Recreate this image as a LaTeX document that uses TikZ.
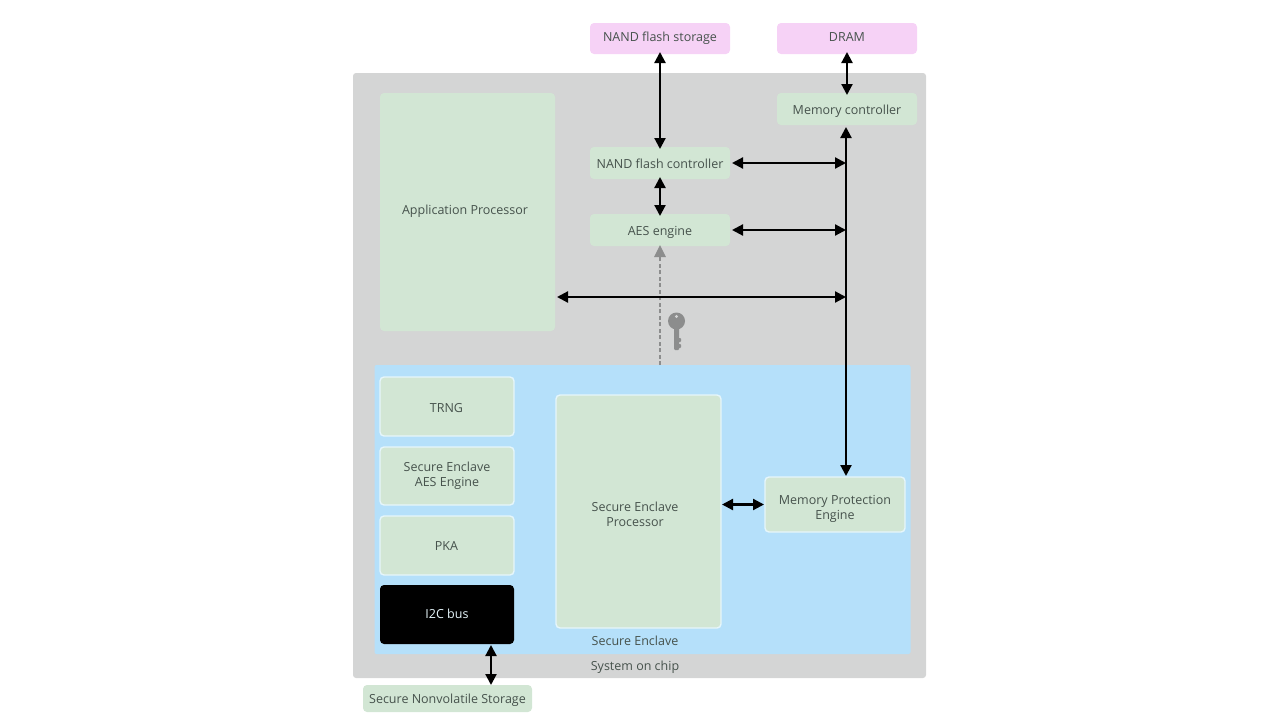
\documentclass[tikz,border=0pt]{standalone}
\usepackage{fontspec}
\setmainfont{Open Sans}
\usetikzlibrary{arrows.meta}
\definecolor{socgrey}{HTML}{D4D5D5}
\definecolor{enclaveblue}{HTML}{B5E0FA}
\definecolor{blockgreen}{HTML}{D2E6D4}
\definecolor{memorypink}{HTML}{F6D2F6}
\definecolor{edgewhite}{HTML}{E6F6FB}
\definecolor{labelgrey}{HTML}{46524C}
\definecolor{keygrey}{HTML}{8C8D8D}
\tikzset{
  x=1pt,y=-1pt,
  every node/.style={font=\fontsize{12.5pt}{15pt}\selectfont,align=center,inner sep=0pt,outer sep=0pt,text=labelgrey},
  region/.style={rounded corners=3pt},
  green block/.style={fill=blockgreen,rounded corners=4pt},
  pink block/.style={fill=memorypink,rounded corners=4pt,text=labelgrey},
  enclave block/.style={fill=blockgreen,draw=edgewhite,line width=1.4pt,rounded corners=4pt},
  black block/.style={fill=black,rounded corners=4pt,text=edgewhite},
  textpad/.style 2 args={execute at begin node={\rule{0pt}{#1pt}},execute at end node={\rule[-#2pt]{0pt}{#2pt}}},
  link/.style={draw=black,line width=2.2pt,{Triangle[width=11pt,length=11pt]}-{Triangle[width=11pt,length=11pt]}},
  keylink/.style={draw=keygrey,line width=2.6pt,dash pattern=on 4pt off 2.5pt,-{Triangle[width=11pt,length=12pt]}},
}
\newcommand{\blockat}[7]{\node[#1,minimum width=#5-#4,minimum height=#7-#6] (#2) at ({(#4+#5)/2},{(#6+#7)/2}) {#3};}
\newcommand{\loweredpair}[3]{\raisebox{-#1pt}[0pt][0pt]{\begin{tabular}{@{}c@{}}#2\\#3\end{tabular}}}
\begin{document}
\begin{tikzpicture}
\useasboundingbox (0,0) rectangle (1280,720);
\blockat{region,fill=socgrey}{soc}{}{353}{926}{73}{678}
\blockat{region,fill=enclaveblue,rounded corners=2pt}{enclave}{}{374.5}{910.5}{365}{654}
\blockat{green block,textpad={9.5}{4.5}}{ap}{Application Processor\hspace*{5pt}}{380}{555}{93}{331}
\blockat{pink block,textpad={9.5}{4.5}}{flash}{NAND flash storage}{590}{730}{23}{54}
\blockat{pink block,textpad={9.5}{4.5}}{dram}{DRAM}{777}{917}{23}{54}
\blockat{green block,textpad={14.5}{3.5}}{memctl}{Memory controller}{777}{917}{93}{125}
\blockat{green block,textpad={15}{3.5}}{nandctl}{NAND flash controller}{590}{730}{147}{179}
\blockat{green block,textpad={13.5}{3.5}}{aes}{AES engine}{590}{730}{214}{246}
\blockat{enclave block,textpad={14.5}{3.5}}{trng}{TRNG\hspace*{1pt}}{380}{514}{377}{436}
\blockat{enclave block,textpad={9.5}{3.5}}{seaes}{Secure Enclave\\AES Engine}{380}{514}{447}{505}
\blockat{enclave block,textpad={13.5}{3.5}}{pka}{PKA\hspace*{1pt}}{380}{514}{516}{575}
\blockat{black block,textpad={10.5}{3.5}}{itc}{I2C bus}{380}{514}{585}{644}
\blockat{enclave block,textpad={9.5}{3.5}}{sep}{\loweredpair{4.5}{Secure Enclave}{Processor}\hspace*{7pt}}{556}{721}{395}{628}
\blockat{enclave block,textpad={9.5}{3.5}}{mpe}{\loweredpair{4.5}{Memory Protection}{Engine}}{765}{905}{477}{532}
\blockat{green block,textpad={13.5}{3.5}}{nvs}{Secure Nonvolatile Storage}{363}{532}{685}{712}
\node (selabel) at (635,641) {Secure Enclave};
\node (soclabel) at (635,667) {System on chip};
% junctions on the vertical bus
\coordinate (busnand) at (846,163);
\coordinate (busaes) at (846,230);
\coordinate (busap) at (846,297);
\coordinate (busmpe) at (846,476);
\coordinate (i2cdrop) at (491,645);
% key
\fill[keygrey] (676.5,321) circle (8.5);
\fill[keygrey,rounded corners=1pt] (674,327) rectangle (679,350);
\fill[keygrey,rounded corners=1pt] (678,338) rectangle (681,342);
\fill[keygrey,rounded corners=1pt] (678,344) rectangle (681,348);
\fill[socgrey] (676.5,316.5) circle (1.6);
% connectors
\draw[keylink] (aes.south |- enclave.north) -- ([yshift=1pt]aes.south);
\draw[link] ([yshift=2pt]flash.south) -- ([yshift=-2pt]nandctl.north);
\draw[link] ([yshift=2pt]dram.south) -- ([yshift=-2pt]memctl.north);
\draw[link] ([yshift=2pt]nandctl.south) -- ([yshift=-2pt]aes.north);
\draw[link] ([xshift=2pt]nandctl.east) -- (busnand);
\draw[link] ([xshift=2pt]aes.east) -- (busaes);
\draw[link] (busap -| ap.east) ++(2,0) -- (busap);
\draw[link] (busnand |- memctl.south) ++(0,2) -- (busmpe);
\draw[link] ([xshift=1pt]mpe.west -| sep.east) -- ([xshift=-1pt]mpe.west);
\draw[link] (i2cdrop) -- (i2cdrop |- nvs.north);
\end{tikzpicture}
\end{document}
